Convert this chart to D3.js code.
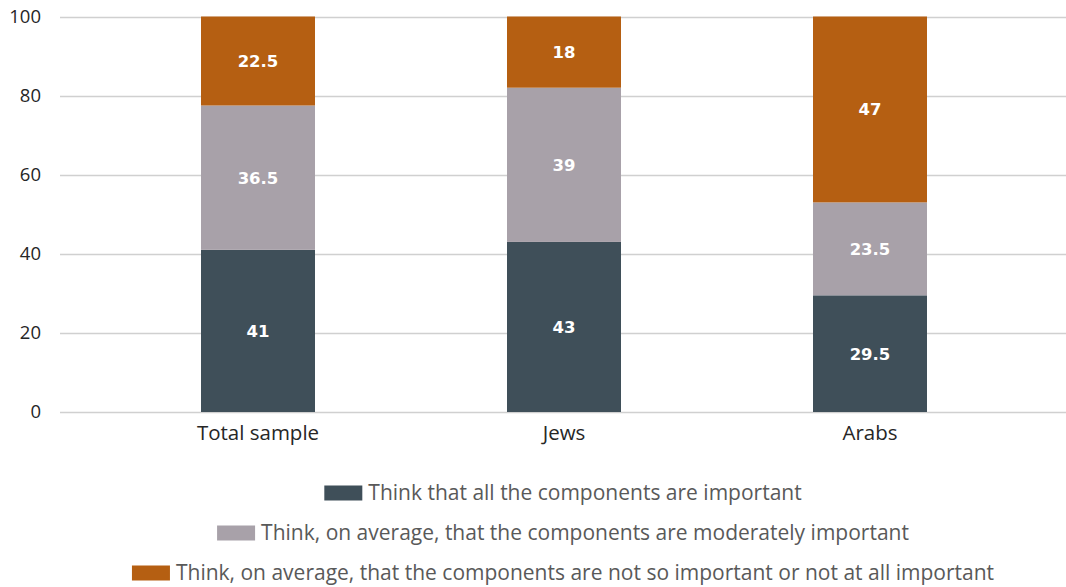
<!DOCTYPE html>
<html>
<head>
<meta charset="utf-8">
<script src="https://cdn.jsdelivr.net/npm/d3@7"></script>
<style>
  html, body { margin: 0; padding: 0; background: #ffffff; }
  svg { display: block; }
</style>
</head>
<body>
<svg id="chart" width="1066" height="587"></svg>
<script>
// Groups along the x axis
const categories = ["Total sample", "Jews", "Arabs"];

// Series names (bottom to top in each stack)
const seriesNames = [
  "Think that all the components are important",
  "Think, on average, that the components are moderately important",
  "Think, on average, that the components are not so important or not at all important"
];

// Percent values per series, in category order
const allImportant      = [41, 43, 29.5];
const moderatelyImp     = [36.5, 39, 23.5];
const notSoImportant    = [22.5, 18, 47];

const yTicks = [0, 20, 40, 60, 80, 100];
const seriesColors = ["#3f4f59", "#a8a1a9", "#b55f12"];

const seriesValues = [allImportant, moderatelyImp, notSoImportant];
const rows = categories.map((c, i) => {
  const r = { category: c };
  seriesNames.forEach((s, k) => { r[s] = seriesValues[k][i]; });
  return r;
});

const svg = d3.select("#chart");
const plotLeft = 60, plotRight = 1066, plotTop = 16.5, plotBottom = 412;

const x = d3.scaleBand()
  .domain(categories)
  .range([105, 1023])
  .paddingInner(0.6275)
  .paddingOuter(0.6275 / 2);

const y = d3.scaleLinear().domain([0, 100]).range([plotBottom, plotTop]);

// Horizontal gridlines
svg.append("g")
  .selectAll("line")
  .data(yTicks)
  .join("line")
  .attr("x1", plotLeft)
  .attr("x2", plotRight)
  .attr("y1", d => Math.round(y(d)) + 0.5)
  .attr("y2", d => Math.round(y(d)) + 0.5)
  .attr("stroke", "#d0d0d0")
  .attr("stroke-width", 1.3);

// Y axis labels
const yAxis = d3.axisLeft(y).tickValues(yTicks).tickSize(0).tickPadding(0);
const yg = svg.append("g").attr("transform", "translate(41,0)").call(yAxis);
yg.select(".domain").remove();
yg.selectAll("text")
  .attr("font-family", "'Open Sans', sans-serif")
  .attr("font-size", 18.5)
  .attr("fill", "#262626");

// Stacked bars
const stack = d3.stack().keys(seriesNames);
const layers = stack(rows);

const layerG = svg.append("g")
  .selectAll("g")
  .data(layers)
  .join("g")
  .attr("fill", (d, i) => seriesColors[i]);

layerG.selectAll("rect")
  .data(d => d.map(p => ({ p, key: d.key })))
  .join("rect")
  .attr("x", d => x(d.p.data.category))
  .attr("width", x.bandwidth())
  .attr("y", d => y(d.p[1]))
  .attr("height", d => y(d.p[0]) - y(d.p[1]));

// Value labels inside segments
layerG.selectAll("text")
  .data(d => d.map(p => ({ p, key: d.key })))
  .join("text")
  .attr("x", d => x(d.p.data.category) + x.bandwidth() / 2)
  .attr("y", d => (y(d.p[0]) + y(d.p[1])) / 2)
  .attr("dy", "0.36em")
  .attr("text-anchor", "middle")
  .attr("font-family", "'DejaVu Sans', sans-serif")
  .attr("font-weight", "bold")
  .attr("font-size", 16.5)
  .attr("fill", "#ffffff")
  .text(d => d.p.data[d.key]);

// X axis labels
const xAxis = d3.axisBottom(x).tickSize(0).tickPadding(0);
const xg = svg.append("g").attr("transform", `translate(0,${plotBottom + 13})`).call(xAxis);
xg.select(".domain").remove();
xg.selectAll("text")
  .attr("dy", "0.71em")
  .attr("font-family", "'Open Sans', sans-serif")
  .attr("font-size", 20.5)
  .attr("fill", "#262626");

// Legend: one centered row per series
const legendCenter = (plotLeft + plotRight) / 2;
const legendRowsY = [493, 533, 573];
const sw = 38, sh = 15, gap = 6;

seriesNames.forEach((name, i) => {
  const g = svg.append("g");
  const t = g.append("text")
    .attr("font-family", "'Open Sans', sans-serif")
    .attr("font-size", 21)
    .attr("fill", "#595959")
    .attr("dy", "0.35em")
    .attr("y", legendRowsY[i])
    .text(name);
  const tw = t.node().getComputedTextLength();
  const total = sw + gap + tw;
  const x0 = legendCenter - total / 2;
  t.attr("x", x0 + sw + gap);
  g.append("rect")
    .attr("x", x0)
    .attr("y", legendRowsY[i] - sh / 2)
    .attr("width", sw)
    .attr("height", sh)
    .attr("fill", seriesColors[i]);
});
</script>
</body>
</html>
